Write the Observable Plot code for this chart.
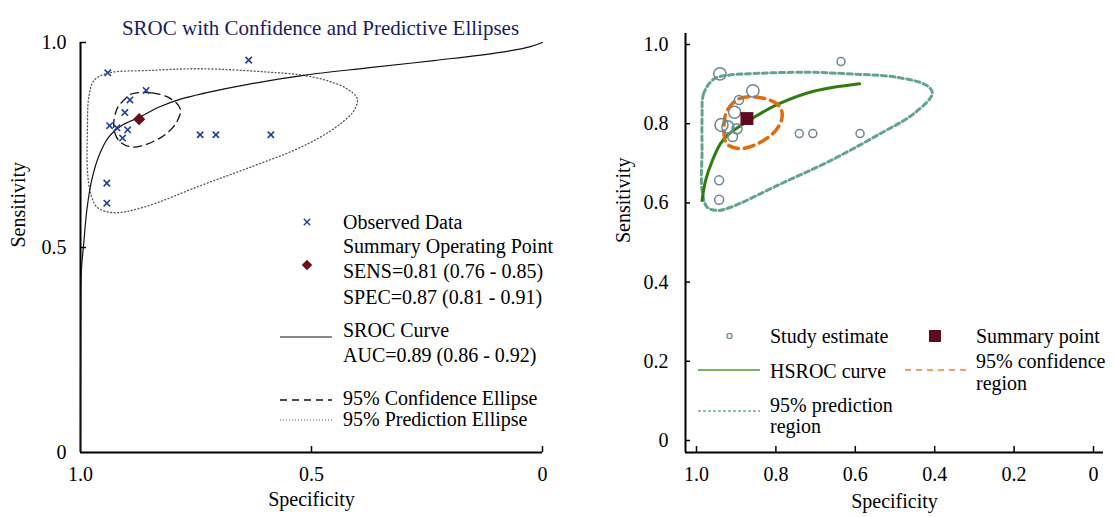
<!DOCTYPE html>
<html><head><meta charset="utf-8">
<script src="https://cdn.jsdelivr.net/npm/d3@7"></script>
<script src="https://cdn.jsdelivr.net/npm/@observablehq/plot@0.6"></script>
<style>
body{margin:0;background:#fff;}
#wrap{position:relative;width:1115px;height:517px;font-family:"Liberation Serif",serif;}
#left{position:absolute;left:0;top:0;}
#right{position:absolute;left:600px;top:0;}
#legend{position:absolute;left:0;top:0;pointer-events:none;}
</style></head><body>
<div id="wrap"><div id="left"></div><div id="right"></div><svg id="legend" width="1115" height="517"></svg></div>
<script>
// ---- data ----
const studySpec = [0.941, 0.636, 0.858, 0.893, 0.904, 0.937, 0.921, 0.898, 0.909, 0.741, 0.707, 0.588, 0.943, 0.943];
const studySens = [0.926, 0.957, 0.883, 0.860, 0.829, 0.797, 0.792, 0.787, 0.767, 0.775, 0.775, 0.775, 0.657, 0.608];
const studyWeight = [38, 16, 38, 20, 36, 42, 36, 25, 23, 16, 16, 16, 20, 20];
const summarySpec = [0.873];
const summarySens = [0.813];

// left panel: SROC curve and ellipses
const srocSpec = [1.0, 0.9995, 0.998, 0.993, 0.986, 0.975, 0.960, 0.939, 0.910, 0.874, 0.831, 0.780, 0.729, 0.632, 0.517, 0.379, 0.235, 0.091, 0.026, 0.0];
const srocSens = [0.0, 0.300, 0.444, 0.510, 0.594, 0.668, 0.724, 0.769, 0.798, 0.817, 0.842, 0.863, 0.877, 0.899, 0.920, 0.938, 0.956, 0.976, 0.990, 1.0];
const confSpec = [0.888, 0.845, 0.805, 0.784, 0.794, 0.831, 0.888, 0.917, 0.928, 0.921, 0.903];
const confSens = [0.875, 0.877, 0.863, 0.838, 0.802, 0.765, 0.745, 0.761, 0.793, 0.838, 0.863];
const predSpec = [0.971, 0.942, 0.848, 0.740, 0.596, 0.524, 0.466, 0.423, 0.401, 0.408, 0.437, 0.481, 0.538, 0.632, 0.740, 0.864, 0.929, 0.964, 0.978, 0.985, 0.985, 0.982];
const predSens = [0.907, 0.925, 0.932, 0.936, 0.928, 0.921, 0.907, 0.887, 0.863, 0.834, 0.802, 0.769, 0.737, 0.696, 0.651, 0.598, 0.585, 0.598, 0.632, 0.688, 0.785, 0.867];

// right panel: HSROC curve and regions
const hsrocSpec = [0.986, 0.977, 0.960, 0.940, 0.923, 0.889, 0.847, 0.793, 0.705, 0.589];
const hsrocSens = [0.606, 0.657, 0.707, 0.749, 0.770, 0.795, 0.821, 0.850, 0.882, 0.901];
const confRSpec = [0.923, 0.893, 0.847, 0.797, 0.784, 0.797, 0.839, 0.889, 0.923, 0.931];
const confRSens = [0.833, 0.863, 0.867, 0.850, 0.825, 0.787, 0.753, 0.737, 0.749, 0.783];
const predRSpec = [0.956, 0.982, 0.986, 0.986, 0.986, 0.973, 0.948, 0.914, 0.788, 0.662, 0.537, 0.453, 0.406, 0.419, 0.494, 0.620, 0.721, 0.872, 0.923];
const predRSens = [0.913, 0.876, 0.816, 0.732, 0.631, 0.589, 0.581, 0.589, 0.648, 0.707, 0.775, 0.825, 0.876, 0.896, 0.917, 0.926, 0.930, 0.926, 0.922];

const leftTicks = [1, 0.5, 0];
const rightTicks = [1, 0.8, 0.6, 0.4, 0.2, 0];

// ---- helpers ----
const fmt = d => d === 0 ? "0" : d.toFixed(1);
const pts = (xs, ys) => xs.map((x, i) => ({spec: x, sens: ys[i]}));
const studies = studySpec.map((s, i) => ({spec: s, sens: studySens[i], w: studyWeight[i]}));
const summary = pts(summarySpec, summarySens);
const FONT = "'Liberation Serif', 'Times New Roman', serif";

const left = Plot.plot({
  width: 560, height: 517,
  marginLeft: 80, marginRight: 18, marginTop: 42, marginBottom: 65,
  x: {domain: [1, 0]}, y: {domain: [0, 1]},
  style: {fontFamily: FONT, fontSize: "20px", color: "#000", background: "transparent"},
  marks: [
    Plot.axisX({ticks: leftTicks, tickFormat: fmt, tickSize: 0, tickPadding: 14, label: null, fontSize: 20}),
    Plot.axisY({ticks: leftTicks, tickFormat: fmt, tickSize: 0, tickPadding: 14, label: null, fontSize: 20}),
    Plot.tickX([0.5, 0], {x: d => d, insetTop: 404, strokeWidth: 1.5}),
    Plot.tickY([1, 0.5], {y: d => d, insetRight: 456, strokeWidth: 1.5}),
    Plot.ruleX([1], {strokeWidth: 2}),
    Plot.ruleY([0], {strokeWidth: 2}),
    Plot.line(pts(predSpec, predSens), {x: "spec", y: "sens", curve: "catmull-rom-closed", stroke: "#555", strokeWidth: 1.3, strokeDasharray: "1,2.5"}),
    Plot.line(pts(confSpec, confSens), {x: "spec", y: "sens", curve: "catmull-rom-closed", stroke: "#111", strokeWidth: 1.3, strokeDasharray: "8,5"}),
    Plot.line(pts(srocSpec, srocSens), {x: "spec", y: "sens", curve: "catmull-rom", stroke: "#111", strokeWidth: 1.2}),
    Plot.dot(studies, {x: "spec", y: "sens", symbol: "times", r: 3, stroke: "#1f3f99", strokeWidth: 1.6}),
    Plot.dot(summary, {x: "spec", y: "sens", symbol: "diamond2", r: 5.5, fill: "#6b0e1e"}),
    Plot.text(["SROC with Confidence and Predictive Ellipses"], {text: d => d, frameAnchor: "top", dy: -22, dx: 9, fill: "#1b1b5e", fontSize: 21}),
    Plot.text(["Specificity"], {text: d => d, frameAnchor: "bottom", dy: 53, fontSize: 20}),
    Plot.text(["Sensitivity"], {text: d => d, frameAnchor: "left", dx: -62, rotate: -90, fontSize: 20})
  ]
});
document.getElementById("left").appendChild(left);

const xDomR = [1.0277, -0.0252], yDomR = [-0.0303, 1.0278];
const right = Plot.plot({
  width: 515, height: 517,
  marginLeft: 85, marginRight: 12, marginTop: 33, marginBottom: 65,
  x: {domain: xDomR}, y: {domain: yDomR},
  r: {domain: [0, 42], range: [0, 6.5]},
  style: {fontFamily: FONT, fontSize: "20px", color: "#000", background: "transparent"},
  marks: [
    Plot.axisX({ticks: rightTicks, tickFormat: fmt, tickSize: 0, tickPadding: 14, label: null, fontSize: 20}),
    Plot.axisY({ticks: rightTicks, tickFormat: fmt, tickSize: 0, tickPadding: 17, label: null, fontSize: 20}),
    Plot.tickX(rightTicks, {x: d => d, insetTop: 413, strokeWidth: 1.5}),
    Plot.tickY(rightTicks, {y: d => d, insetRight: 413, strokeWidth: 1.5}),
    Plot.ruleX([xDomR[0]], {strokeWidth: 2}),
    Plot.ruleY([yDomR[0]], {strokeWidth: 2}),
    Plot.line(pts(predRSpec, predRSens), {x: "spec", y: "sens", curve: "catmull-rom-closed", stroke: "#64a48c", strokeWidth: 3, strokeDasharray: "5,3.5"}),
    Plot.line(pts(hsrocSpec, hsrocSens), {x: "spec", y: "sens", curve: "catmull-rom", stroke: "#2f7d0f", strokeWidth: 3}),
    Plot.line(pts(confRSpec, confRSens), {x: "spec", y: "sens", curve: "catmull-rom-closed", stroke: "#e26a0a", strokeWidth: 3.5, strokeDasharray: "10,6"}),
    Plot.dot(studies, {x: "spec", y: "sens", r: "w", stroke: "#6f8594", strokeWidth: 1.5, fill: "none"}),
    Plot.dot(summary, {x: "spec", y: "sens", symbol: "square", r: 7.3, fill: "#5e0a1f"}),
    Plot.text(["Specificity"], {text: d => d, frameAnchor: "bottom", dy: 55, fontSize: 20}),
    Plot.text(["Sensitivity"], {text: d => d, frameAnchor: "left", dx: -62, rotate: -90, fontSize: 20})
  ]
});
document.getElementById("right").appendChild(right);

// ---- legends ----
const lg = d3.select("#legend").style("font-family", FONT).style("font-size", "20px");
function txt(x, y, s) { lg.append("text").attr("x", x).attr("y", y).attr("dy", "0.35em").text(s); }
function seg(x1, x2, y, stroke, w, dash) {
  lg.append("line").attr("x1", x1).attr("x2", x2).attr("y1", y).attr("y2", y)
    .attr("stroke", stroke).attr("stroke-width", w).attr("stroke-dasharray", dash || null);
}
// left legend
lg.append("path").attr("d", d3.symbol(d3.symbolTimes, 28)()).attr("transform", "translate(307,222)").attr("stroke", "#1f3f99").attr("stroke-width", 1.4).attr("fill", "none");
txt(343, 222, "Observed Data");
txt(343, 246, "Summary Operating Point");
lg.append("path").attr("d", d3.symbol(d3.symbolDiamond2, 70)()).attr("transform", "translate(307,265)").attr("fill", "#6b0e1e");
txt(343, 271, "SENS=0.81 (0.76 - 0.85)");
txt(343, 297, "SPEC=0.87 (0.81 - 0.91)");
seg(280, 332, 337, "#111", 1.2);
txt(343, 330, "SROC Curve");
txt(343, 355, "AUC=0.89 (0.86 - 0.92)");
seg(280, 332, 400, "#111", 1.3, "7,5");
txt(343, 398, "95% Confidence Ellipse");
seg(280, 332, 420, "#555", 1, "1,2");
txt(343, 419, "95% Prediction Ellipse");
// right legend
lg.append("circle").attr("cx", 729.5).attr("cy", 336).attr("r", 2.6).attr("fill", "none").attr("stroke", "#6f8594").attr("stroke-width", 1.2);
txt(770, 336, "Study estimate");
lg.append("rect").attr("x", 929).attr("y", 330).attr("width", 12).attr("height", 12).attr("fill", "#5e0a1f");
txt(976, 336, "Summary point");
seg(698, 760, 370, "#4f9a2f", 1.6);
txt(770, 371, "HSROC curve");
seg(905, 967, 370, "#f08030", 1.6, "6,5");
txt(976, 361, "95% confidence");
txt(976, 383, "region");
seg(698, 760, 411, "#6aaa96", 1.6, "3,2");
txt(770, 405, "95% prediction");
txt(770, 426, "region");
</script>
</body></html>
